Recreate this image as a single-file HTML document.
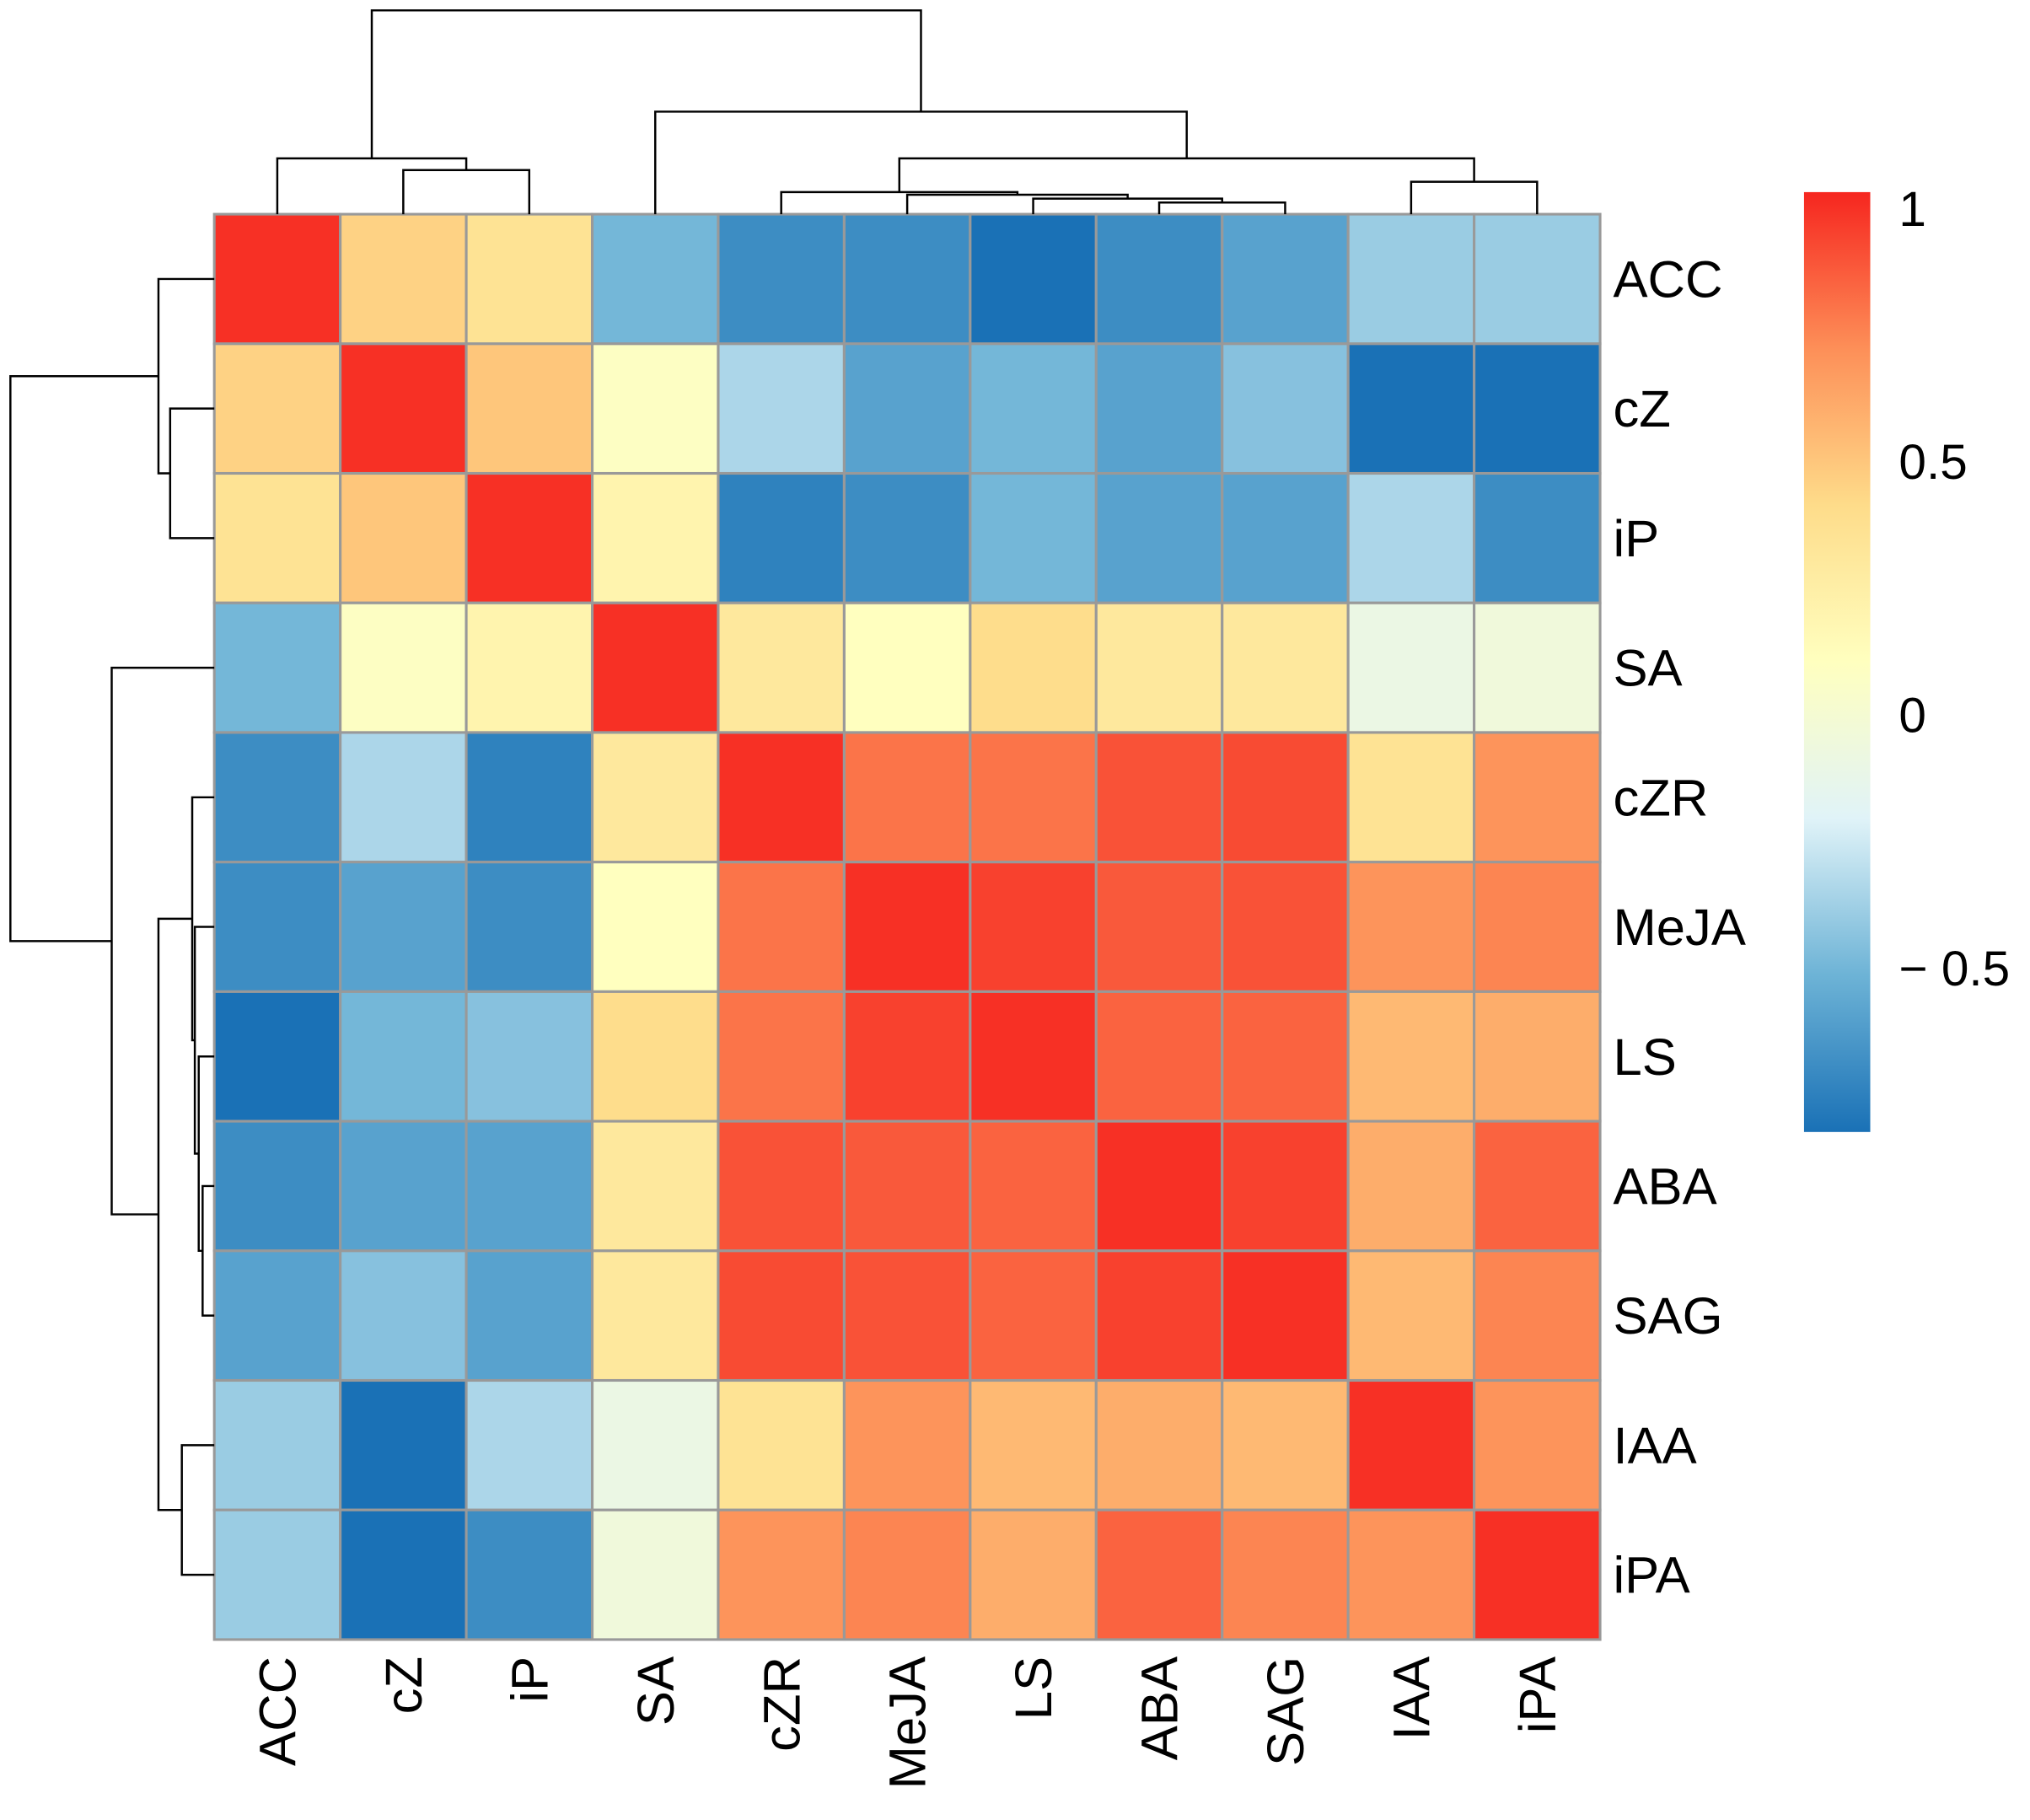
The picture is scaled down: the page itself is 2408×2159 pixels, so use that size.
<!DOCTYPE html>
<html><head><meta charset="utf-8"><style>
html,body{margin:0;padding:0;background:#fff;}
svg{display:block;}
text{font-family:"Liberation Sans",Arial,sans-serif;fill:#000;}
</style></head><body>
<svg id="chart" width="2408" height="2159" viewBox="0 0 1563 1402" preserveAspectRatio="none" xmlns="http://www.w3.org/2000/svg">
<defs>
<linearGradient id="cbgrad" x1="0" y1="1" x2="0" y2="0">
<stop offset="0" stop-color="#1A71B6"/>
<stop offset="0.1667" stop-color="#6DB3D6"/>
<stop offset="0.3333" stop-color="#E0F3F8"/>
<stop offset="0.5" stop-color="#FFFFBF"/>
<stop offset="0.6667" stop-color="#FEDC8A"/>
<stop offset="0.8333" stop-color="#FD8F58"/>
<stop offset="1" stop-color="#F6261F"/>
</linearGradient>
</defs>
<g id="cells"></g>
<g id="dendro" fill="none" stroke="#000" stroke-width="1.6"></g>
<g id="labels"></g>
<rect x="1389" y="148" width="51" height="724" fill="url(#cbgrad)"/>
<g id="cblabels" font-size="38"></g>
</svg>
<script>
const labels = ["ACC","cZ","iP","SA","cZR","MeJA","LS","ABA","SAG","IAA","iPA"];
const values = [
[1,0.45,0.35,-0.5,-0.7,-0.7,-0.85,-0.7,-0.6,-0.4,-0.4],
[0.45,1,0.5,0.08,-0.35,-0.6,-0.5,-0.6,-0.45,-0.85,-0.85],
[0.35,0.5,1,0.2,-0.75,-0.7,-0.5,-0.6,-0.6,-0.35,-0.7],
[-0.5,0.08,0.2,1,0.3,0.1,0.4,0.3,0.3,-0.1,-0.05],
[-0.7,-0.35,-0.75,0.3,1,0.8,0.8,0.9,0.92,0.35,0.7],
[-0.7,-0.6,-0.7,0.1,0.8,1,0.95,0.88,0.9,0.7,0.75],
[-0.85,-0.5,-0.45,0.4,0.8,0.95,1,0.85,0.85,0.55,0.6],
[-0.7,-0.6,-0.6,0.3,0.9,0.88,0.85,1,0.95,0.6,0.85],
[-0.6,-0.45,-0.6,0.3,0.92,0.9,0.85,0.95,1,0.55,0.75],
[-0.4,-0.85,-0.35,-0.1,0.35,0.7,0.55,0.6,0.55,1,0.7],
[-0.4,-0.85,-0.7,-0.05,0.7,0.75,0.6,0.85,0.75,0.7,1]
];
const colorbarTicks = [1,0.5,0,-0.5];
const colorbarTickLabels = ["1","0.5","0","\u2212 0.5"];
const merges = [
[1,2,131],[0,11,122],[7,8,156],[6,13,153],[5,14,150],[4,15,148],[9,10,140],[16,17,122],[3,18,86],[12,19,8]
];
const vmin=-0.83, vmax=1.03;
const stops=["#1A71B6","#6DB3D6","#E0F3F8","#FFFFBF","#FEDC8A","#FD8F58","#F6261F"];
function hex(c){return [1,3,5].map(i=>parseInt(c.substr(i,2),16));}
function color(v){
 let t=(v-vmin)/(vmax-vmin); t=Math.max(0,Math.min(1,t));
 const p=t*(stops.length-1); const i=Math.min(stops.length-2,Math.floor(p)); const f=p-i;
 const a=hex(stops[i]), b=hex(stops[i+1]);
 return "rgb("+a.map((x,k)=>Math.round(x+(b[k]-x)*f)).join(",")+")";
}
const NS="http://www.w3.org/2000/svg";
const X0=165,X1=1232,Y0=165,Y1=1263,n=labels.length;
const cw=(X1-X0)/n, ch=(Y1-Y0)/n;
const xc=i=>X0+cw*(i+0.5), yc=i=>Y0+ch*(i+0.5);
const cbY=v=>550-390*v;
function mk(tag,attrs,parent){const e=document.createElementNS(NS,tag);for(const k in attrs)e.setAttribute(k,attrs[k]);parent.appendChild(e);return e;}
const gc=document.getElementById('cells');
values.forEach((row,r)=>row.forEach((v,c)=>{
 const e=mk('rect',{x:X0+c*cw,y:Y0+r*ch,width:cw,height:ch,fill:color(v),stroke:'#999','stroke-width':2},gc);
 
 
}));
const gl=document.getElementById('labels');
labels.forEach((l,i)=>{
 const t=mk('text',{x:1242,y:yc(i)+14,'font-size':40},gl);t.textContent=l;
 
 
 const t2=mk('text',{x:0,y:0,'font-size':40,'text-anchor':'end',transform:'translate('+(xc(i)+14)+',1276) rotate(-90)'},gl);t2.textContent=l;
 
 
});
const gd=document.getElementById('dendro');
const pos={}, hgt={};
for(let i=0;i<n;i++){pos[i]=i;hgt[i]=165;}
merges.forEach((m,k)=>{
 const id=n+k,[a,b,h]=m;
 const pa=pos[a],pb=pos[b];
 const xa=X0+cw*(pa+0.5), xb=X0+cw*(pb+0.5);
 const d1=mk('path',{d:'M'+xa+','+hgt[a]+'V'+h+'H'+xb+'V'+hgt[b]},gd);
 
 
 const ya=Y0+ch*(pa+0.5), yb=Y0+ch*(pb+0.5);
 const d2=mk('path',{d:'M'+hgt[a]+','+ya+'H'+h+'V'+yb+'H'+hgt[b]},gd);
 
 
 pos[id]=(pa+pb)/2; hgt[id]=h;
});
const gb=document.getElementById('cblabels');
colorbarTicks.forEach((v,i)=>{
 const t=mk('text',{x:1462,y:cbY(v)+14},gb);t.textContent=colorbarTickLabels[i];
 
 
});
</script>
</body></html>
